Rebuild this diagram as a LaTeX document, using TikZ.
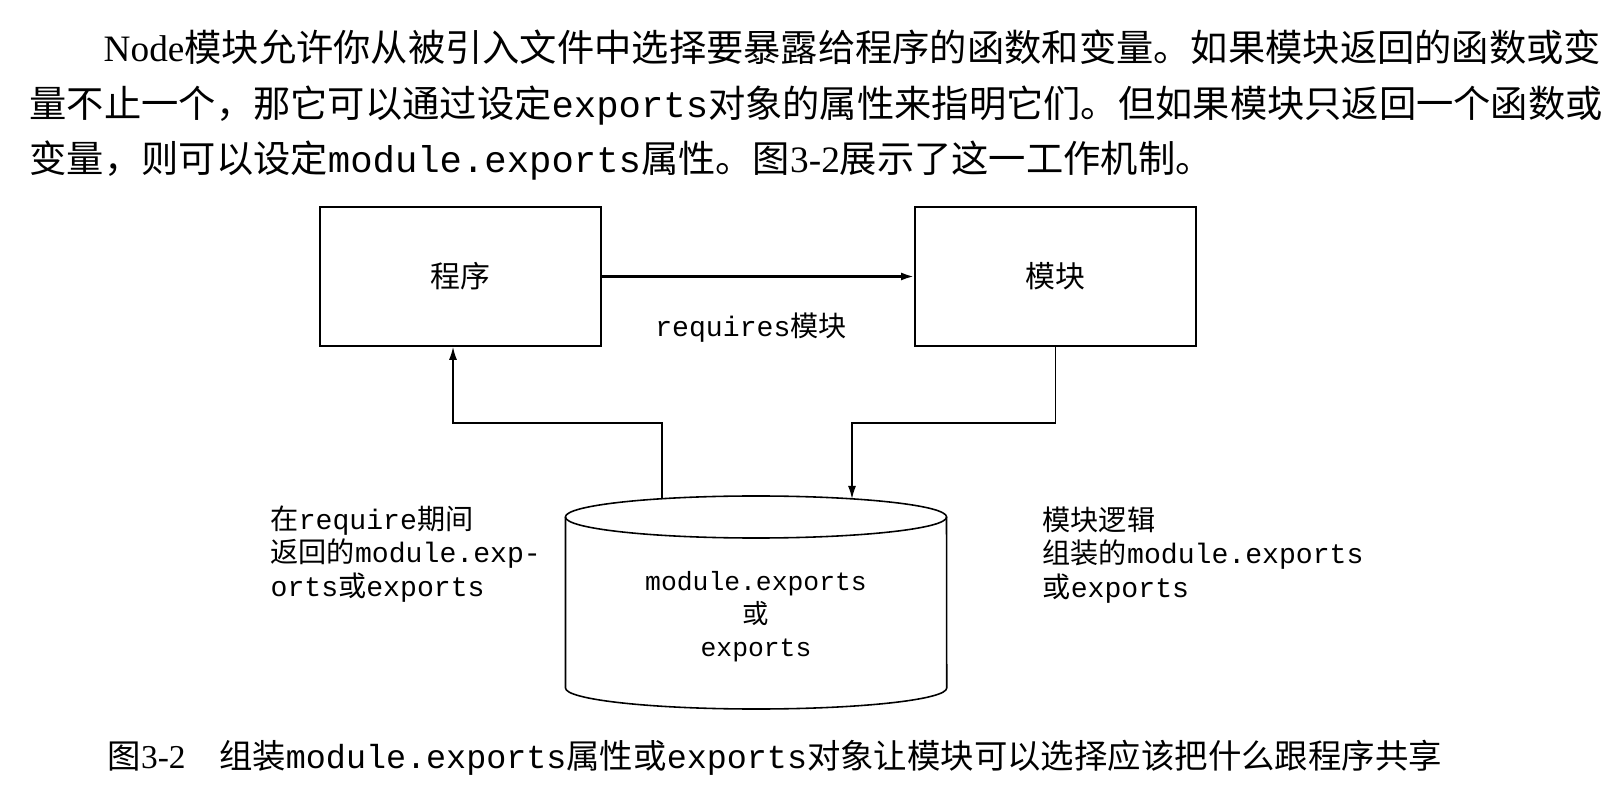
\documentclass[tikz,border=0pt]{standalone}
\usepackage{fontspec}
\setmainfont{Noto Sans CJK SC}
\setmonofont{Liberation Mono}
\newfontfamily\tms{Liberation Serif}
\usetikzlibrary{positioning,arrows.meta}

\begin{document}
\begin{tikzpicture}[x=0.01cm,y=0.01cm,
    blockbox/.style={draw,line width=0.45pt,minimum width=2.81cm,minimum height=1.39cm,inner sep=0pt,font=\fontsize{8.5pt}{10pt}\selectfont},
    arr/.style={-{Latex[length=1.3mm,width=0.8mm]},line width=0.45pt},
    smalltext/.style={font=\fontsize{8pt}{9.6pt}\selectfont,align=left,inner sep=0pt},
    paraline/.style={anchor=base west,inner sep=0pt,font=\fontsize{10.6pt}{12pt}\selectfont}]
  \useasboundingbox (0,0) rectangle (1622,800);
  \def\cx{756} \def\cytop{283} \def\cybot{112}

  % paragraph above the figure
  \node[paraline] (par1) at (103,738) {{\tms Node}模块允许你从被引入文件中选择要暴露给程序的函数和变量。如果模块返回的函数或变};
  \node[paraline] (par2) at (29,682) {量不止一个，那它可以通过设定\texttt{exports}对象的属性来指明它们。但如果模块只返回一个函数或};
  \node[paraline] (par3) at (29,627) {变量，则可以设定\texttt{module.exports}属性。图{\tms 3-2}展示了这一工作机制。};

  % program and module
  \node[blockbox] (prog) at (460.5,523.5) {程序};
  \node[blockbox,right=3.12cm of prog] (modl) {模块};
  \draw[arr,line width=0.65pt] (prog) -- (modl);
  \node[smalltext] (req) at (751,472) {\texttt{requires}模块};

  % cylinder
  \draw[line width=0.45pt] (\cx-190.5,\cytop) -- (\cx-190.5,\cybot)
    arc[start angle=180,end angle=360,x radius=1.905cm,y radius=0.21cm] -- (\cx+190.5,\cytop);
  \draw[line width=0.45pt] (\cx,\cytop) ellipse [x radius=1.905cm,y radius=0.21cm];
  \node[font=\fontsize{7.5pt}{9.4pt}\selectfont,align=center] (store) at (\cx,183) {\texttt{module.exports}\\或\\\texttt{exports}};

  \coordinate (storeL) at (662,301);
  \coordinate (storeR) at (852,301);
  \coordinate (midL) at (453,377);
  \coordinate (midR) at (852,377);
  \draw[arr] (storeL) |- (midL) -- ([xshift=-0.075cm]prog.south);
  \draw[arr] (modl.south) |- (midR) -- (storeR);

  \node[smalltext,anchor=west] (lefttxt) at (270,246) {在\texttt{require}期间\\返回的\texttt{module.exp-}\\\texttt{orts}或\texttt{exports}};
  \node[smalltext,anchor=west] (righttxt) at (1042,245) {模块逻辑\\组装的\texttt{module.exports}\\或\texttt{exports}};

  % caption
  \node[anchor=base west,inner sep=0pt,font=\fontsize{9.5pt}{12pt}\selectfont] (cap) at (107,32) {图{\tms 3-2}\quad 组装\texttt{module.exports}属性或\texttt{exports}对象让模块可以选择应该把什么跟程序共享};
\end{tikzpicture}
\end{document}
